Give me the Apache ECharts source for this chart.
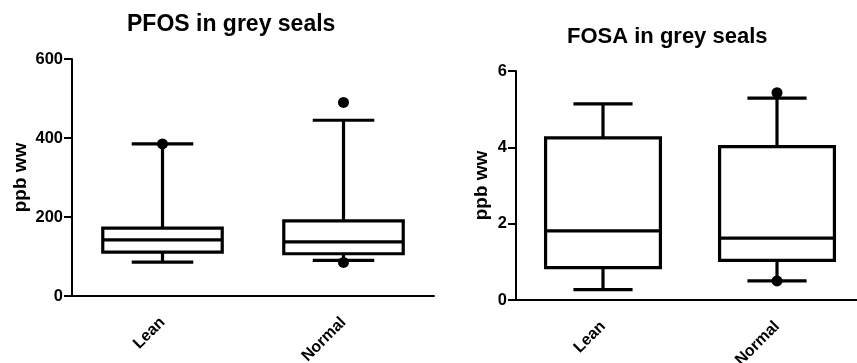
<!DOCTYPE html>
<html>
<head>
<meta charset="utf-8">
<script src="https://cdn.jsdelivr.net/npm/echarts@6/dist/echarts.min.js"></script>
<style>
  html, body { margin: 0; padding: 0; background: #fff; }
  #chart { width: 857px; height: 363px; }
</style>
</head>
<body>
<div id="chart"></div>
<script>
const categories = ['Lean', 'Normal'];

// PFOS box stats (ppb ww)
const pfosMin = [86, 90];
const pfosQ1 = [111, 107];
const pfosMedian = [142, 137];
const pfosQ3 = [172, 190];
const pfosMax = [385, 445];
const pfosOutliers = [[0, 385], [1, 490], [1, 85]];

// FOSA box stats (ppb ww)
const fosaMin = [0.27, 0.50];
const fosaQ1 = [0.85, 1.04];
const fosaMedian = [1.81, 1.62];
const fosaQ3 = [4.25, 4.02];
const fosaMax = [5.14, 5.29];
const fosaOutliers = [[1, 5.43], [1, 0.50]];

const pfosTicks = { min: 0, max: 600, interval: 200 };
const fosaTicks = { min: 0, max: 6, interval: 2 };

const FONT = 'Liberation Sans, Arial, sans-serif';

function boxRows(mn, q1, md, q3, mx) {
  return categories.map((c, i) => [i, mn[i], q1[i], md[i], q3[i], mx[i]]);
}

// box with caps half as wide as the box
function renderBox(params, api) {
  const idx = api.value(0);
  const band = api.size([1, 0])[0];
  const pMin = api.coord([idx, api.value(1)]);
  const pQ1 = api.coord([idx, api.value(2)]);
  const pMed = api.coord([idx, api.value(3)]);
  const pQ3 = api.coord([idx, api.value(4)]);
  const pMax = api.coord([idx, api.value(5)]);
  const x = pMed[0];
  const bw = band * 0.66 / 2;
  const cw = band * 0.34 / 2;
  const st = { stroke: '#000', lineWidth: 3.2, fill: null };
  return {
    type: 'group',
    children: [
      { type: 'line', shape: { x1: x, y1: pMax[1], x2: x, y2: pQ3[1] }, style: st },
      { type: 'line', shape: { x1: x, y1: pQ1[1], x2: x, y2: pMin[1] }, style: st },
      { type: 'line', shape: { x1: x - cw, y1: pMax[1], x2: x + cw, y2: pMax[1] }, style: st },
      { type: 'line', shape: { x1: x - cw, y1: pMin[1], x2: x + cw, y2: pMin[1] }, style: st },
      { type: 'rect', shape: { x: x - bw, y: pQ3[1], width: bw * 2, height: pQ1[1] - pQ3[1] },
        style: { stroke: '#000', lineWidth: 3.2, fill: '#fff' } },
      { type: 'line', shape: { x1: x - bw, y1: pMed[1], x2: x + bw, y2: pMed[1] }, style: st }
    ]
  };
}

function yAxisOpt(idx, ticks, gap) {
  return {
    type: 'value', gridIndex: idx,
    min: ticks.min, max: ticks.max, interval: ticks.interval,
    name: 'ppb ww', nameLocation: 'middle', nameRotate: 90, nameGap: gap,
    nameTextStyle: { color: '#000', fontFamily: FONT, fontWeight: 'bold', fontSize: 19 },
    axisLine: { show: true, lineStyle: { color: '#000', width: 2 } },
    axisTick: { show: true, length: 8, lineStyle: { color: '#000', width: 2 } },
    axisLabel: { color: '#000', fontFamily: FONT, fontWeight: 'bold', fontSize: 16.5, margin: 9 },
    splitLine: { show: false }
  };
}

function xAxisOpt(idx) {
  return {
    type: 'category', gridIndex: idx, data: categories,
    axisLine: { lineStyle: { color: '#000', width: 2 } },
    axisTick: { alignWithLabel: true, length: 8, lineStyle: { color: '#000', width: 2 } },
    axisLabel: { color: '#000', fontFamily: FONT, fontWeight: 'bold', fontSize: 16, rotate: 45, margin: 24 }
  };
}

const chart = echarts.init(document.getElementById('chart'));
chart.setOption({
  backgroundColor: '#fff',
  animation: false,
  title: [
    { text: 'PFOS in grey seals', left: 122, top: 8,
      textStyle: { color: '#000', fontFamily: FONT, fontWeight: 'bold', fontSize: 23 } },
    { text: 'FOSA in grey seals', left: 562, top: 21,
      textStyle: { color: '#000', fontFamily: FONT, fontWeight: 'bold', fontSize: 22 } }
  ],
  grid: [
    { left: 72, top: 59, width: 362, height: 237, containLabel: false, outerBoundsMode: 'none' },
    { left: 516, top: 71, width: 348, height: 229, containLabel: false, outerBoundsMode: 'none' }
  ],
  xAxis: [xAxisOpt(0), xAxisOpt(1)],
  yAxis: [yAxisOpt(0, pfosTicks, 42), yAxisOpt(1, fosaTicks, 25)],
  series: [
    { type: 'custom', xAxisIndex: 0, yAxisIndex: 0, renderItem: renderBox,
      encode: { x: 0, y: [1, 2, 3, 4, 5] },
      data: boxRows(pfosMin, pfosQ1, pfosMedian, pfosQ3, pfosMax) },
    { type: 'scatter', xAxisIndex: 0, yAxisIndex: 0, symbolSize: 11,
      itemStyle: { color: '#000', opacity: 1 }, data: pfosOutliers, z: 5 },
    { type: 'custom', xAxisIndex: 1, yAxisIndex: 1, renderItem: renderBox,
      encode: { x: 0, y: [1, 2, 3, 4, 5] },
      data: boxRows(fosaMin, fosaQ1, fosaMedian, fosaQ3, fosaMax) },
    { type: 'scatter', xAxisIndex: 1, yAxisIndex: 1, symbolSize: 11,
      itemStyle: { color: '#000', opacity: 1 }, data: fosaOutliers, z: 5 }
  ]
});
</script>
</body>
</html>
